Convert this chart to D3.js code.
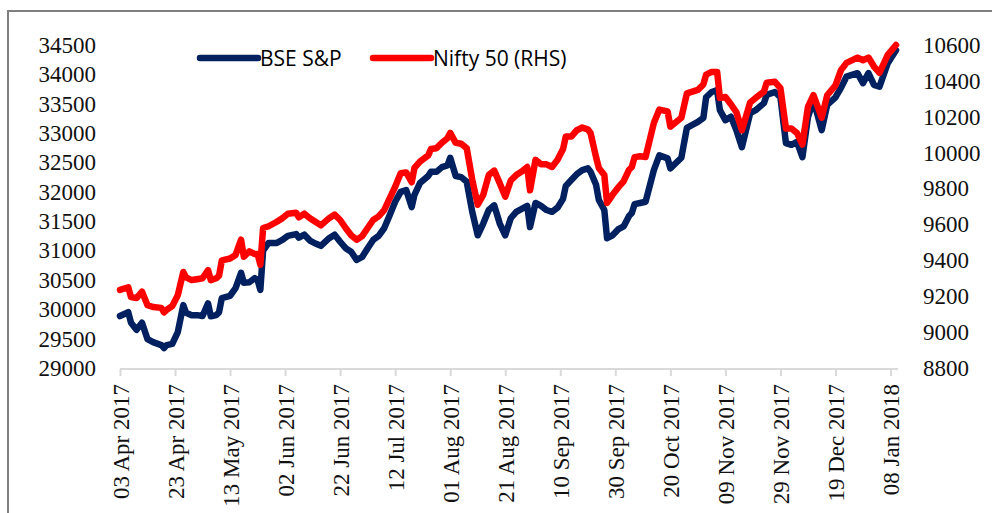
<!DOCTYPE html>
<html>
<head>
<meta charset="utf-8">
<script src="https://cdn.jsdelivr.net/npm/d3@7"></script>
<style>
  body { margin: 0; background: #fff; }
  svg { display: block; }
  .axis text { font-family: "Liberation Serif", "DejaVu Serif", serif; font-size: 23px; fill: #111; }
  .legend text { font-family: "Open Sans", sans-serif; font-size: 21px; fill: #000; }
</style>
</head>
<body>
<div id="chart"></div>
<script>
// values
const dates = [
  '2017-04-03','2017-04-06','2017-04-07','2017-04-09','2017-04-11','2017-04-13','2017-04-15','2017-04-18','2017-04-19','2017-04-20',
  '2017-04-22','2017-04-24','2017-04-26','2017-04-27','2017-04-29','2017-05-01','2017-05-03','2017-05-05','2017-05-06','2017-05-08',
  '2017-05-09','2017-05-10','2017-05-13','2017-05-15','2017-05-17','2017-05-18','2017-05-20','2017-05-22','2017-05-23','2017-05-24',
  '2017-05-25','2017-05-27','2017-05-30','2017-06-01','2017-06-03','2017-06-06','2017-06-07','2017-06-09','2017-06-11','2017-06-13',
  '2017-06-15','2017-06-18','2017-06-20','2017-06-22','2017-06-24','2017-06-26','2017-06-28','2017-06-30','2017-07-02','2017-07-04',
  '2017-07-06','2017-07-08','2017-07-10','2017-07-12','2017-07-14','2017-07-16','2017-07-18','2017-07-19','2017-07-21','2017-07-24',
  '2017-07-25','2017-07-27','2017-07-29','2017-07-31','2017-08-01','2017-08-03','2017-08-05','2017-08-07','2017-08-09','2017-08-11',
  '2017-08-13','2017-08-15','2017-08-17','2017-08-19','2017-08-21','2017-08-23','2017-08-25','2017-08-27','2017-08-29','2017-08-30',
  '2017-09-01','2017-09-03','2017-09-05','2017-09-07','2017-09-09','2017-09-11','2017-09-12','2017-09-14','2017-09-16','2017-09-18',
  '2017-09-20','2017-09-21','2017-09-23','2017-09-24','2017-09-26','2017-09-27','2017-09-29','2017-10-01','2017-10-03','2017-10-05',
  '2017-10-06','2017-10-07','2017-10-09','2017-10-11','2017-10-14','2017-10-16','2017-10-19','2017-10-20','2017-10-24','2017-10-26',
  '2017-10-30','2017-11-01','2017-11-02','2017-11-04','2017-11-06','2017-11-07','2017-11-09','2017-11-11','2017-11-13','2017-11-15',
  '2017-11-18','2017-11-20','2017-11-23','2017-11-24','2017-11-27','2017-11-29','2017-12-01','2017-12-03','2017-12-05','2017-12-07',
  '2017-12-09','2017-12-11','2017-12-14','2017-12-16','2017-12-19','2017-12-21','2017-12-23','2017-12-27','2017-12-29','2017-12-31',
  '2018-01-02','2018-01-04','2018-01-07','2018-01-10'
];

const bse = [
  29885,29950,29770,29650,29770,29490,29440,29390,29340,29390,
  29410,29610,30070,29940,29900,29900,29885,30100,29880,29900,
  29950,30190,30230,30360,30620,30450,30460,30530,30500,30330,
  31000,31130,31130,31180,31250,31280,31220,31270,31170,31120,
  31080,31210,31270,31150,31040,30980,30840,30890,31040,31180,
  31250,31380,31600,31830,32000,32030,31740,31950,32150,32270,
  32340,32340,32420,32450,32580,32270,32250,32170,31660,31260,
  31460,31690,31770,31460,31260,31550,31660,31710,31760,31400,
  31810,31760,31690,31660,31730,31880,32100,32200,32300,32370,
  32400,32340,32120,31860,31690,31210,31260,31360,31410,31590,
  31640,31790,31810,31830,32370,32620,32570,32400,32580,33090,
  33190,33260,33610,33700,33730,33390,33220,33280,33050,32760,
  33340,33390,33510,33650,33700,33610,32830,32800,32850,32590,
  33270,33560,33050,33480,33610,33770,33960,34020,33850,34020,
  33820,33790,34190,34410
];

const nifty = [
  9235,9250,9195,9190,9225,9150,9140,9135,9110,9125,
  9145,9205,9335,9305,9290,9295,9300,9345,9290,9300,
  9315,9400,9410,9430,9515,9420,9450,9435,9435,9375,
  9580,9590,9615,9635,9660,9665,9640,9660,9635,9615,
  9595,9635,9655,9625,9580,9540,9515,9535,9580,9625,
  9645,9680,9745,9810,9885,9890,9835,9915,9950,9985,
  10020,10025,10055,10080,10110,10055,10050,10025,9850,9710,
  9765,9875,9900,9830,9755,9845,9875,9895,9920,9790,
  9960,9935,9935,9920,9960,10020,10090,10090,10125,10140,
  10130,10110,9975,9915,9875,9720,9765,9805,9840,9905,
  9920,9975,9980,9976,10165,10240,10230,10145,10195,10330,
  10350,10380,10435,10450,10450,10305,10310,10270,10225,10125,
  10280,10305,10340,10390,10395,10360,10135,10135,10110,10045,
  10255,10320,10195,10320,10375,10460,10500,10530,10515,10530,
  10480,10445,10545,10600
];

const tickDates = [
  '2017-04-03','2017-04-23','2017-05-13','2017-06-02','2017-06-22','2017-07-12','2017-08-01','2017-08-21',
  '2017-09-10','2017-09-30','2017-10-20','2017-11-09','2017-11-29','2017-12-19','2018-01-08'
];
const leftTicks = [29000, 29500, 30000, 30500, 31000, 31500, 32000, 32500, 33000, 33500, 34000, 34500];
const rightTicks = [8800, 9000, 9200, 9400, 9600, 9800, 10000, 10200, 10400, 10600];
const seriesNames = ['BSE S&P', 'Nifty 50 (RHS)'];
const seriesColors = ['#002060', '#ff0000'];

const width = 992;
const height = 513;
const parse = d3.timeParse('%Y-%m-%d');
const fmt = d3.timeFormat('%d %b %Y');

const rows = dates.map((d, i) => ({date: parse(d), bse: bse[i], nifty: nifty[i]}));

const x = d3.scaleTime()
  .domain([parse('2017-04-03'), parse('2018-01-10')])
  .range([120, 896]);
const yL = d3.scaleLinear().domain([29000, 34500]).range([368, 45]);
const yR = d3.scaleLinear().domain([8800, 10600]).range([368, 45]);

const svg = d3.select('#chart').append('svg')
  .attr('width', width)
  .attr('height', height);

// outer frame (right and bottom edges fall outside the picture)
svg.append('rect')
  .attr('x', 8).attr('y', 11)
  .attr('width', 1000).attr('height', 520)
  .attr('fill', 'none')
  .attr('stroke', '#7f7f7f')
  .attr('stroke-width', 2);

// x axis
const xAxis = svg.append('g')
  .attr('class', 'axis')
  .attr('transform', 'translate(0,369)')
  .call(d3.axisBottom(x).tickValues(tickDates.map(parse)).tickSize(7).tickSizeOuter(0).tickFormat(fmt));
xAxis.select('.domain')
  .attr('d', `M${x.range()[0]},0H${x.range()[1] + 2}`)
  .attr('stroke', '#d9d9d9').attr('stroke-width', 2);
xAxis.selectAll('.tick line').attr('stroke', '#d9d9d9').attr('stroke-width', 2);
xAxis.selectAll('.tick text')
  .attr('text-anchor', 'end')
  .attr('dy', null)
  .attr('y', 0)
  .attr('transform', 'translate(8,15) rotate(-90)');

// left axis
const yAxisL = svg.append('g')
  .attr('class', 'axis')
  .attr('transform', 'translate(96,0)')
  .call(d3.axisLeft(yL).tickValues(leftTicks).tickSize(0).tickPadding(0).tickFormat(d3.format('d')));
yAxisL.select('.domain').remove();

// right axis
const yAxisR = svg.append('g')
  .attr('class', 'axis')
  .attr('transform', 'translate(923,0)')
  .call(d3.axisRight(yR).tickValues(rightTicks).tickSize(0).tickPadding(0).tickFormat(d3.format('d')));
yAxisR.select('.domain').remove();

// lines
const lineL = d3.line().x(d => x(d.date)).y(d => yL(d.bse));
const lineR = d3.line().x(d => x(d.date)).y(d => yR(d.nifty));

svg.append('path')
  .datum(rows)
  .attr('d', lineL)
  .attr('fill', 'none')
  .attr('stroke', seriesColors[0])
  .attr('stroke-width', 6.5)
  .attr('stroke-linejoin', 'round')
  .attr('stroke-linecap', 'round');

svg.append('path')
  .datum(rows)
  .attr('d', lineR)
  .attr('fill', 'none')
  .attr('stroke', seriesColors[1])
  .attr('stroke-width', 6.5)
  .attr('stroke-linejoin', 'round')
  .attr('stroke-linecap', 'round');

// legend
const legendX = [200, 373];
const legend = svg.append('g').attr('class', 'legend');
const item = legend.selectAll('g')
  .data(seriesNames)
  .enter().append('g')
    .attr('transform', (d, i) => `translate(${legendX[i]},58)`);
item.append('line')
  .attr('x1', 0).attr('x2', 58)
  .attr('stroke', (d, i) => seriesColors[i])
  .attr('stroke-width', 6.5)
  .attr('stroke-linecap', 'round');
item.append('text')
  .attr('x', 60)
  .attr('y', 8)
  .text(d => d);
</script>
</body>
</html>
